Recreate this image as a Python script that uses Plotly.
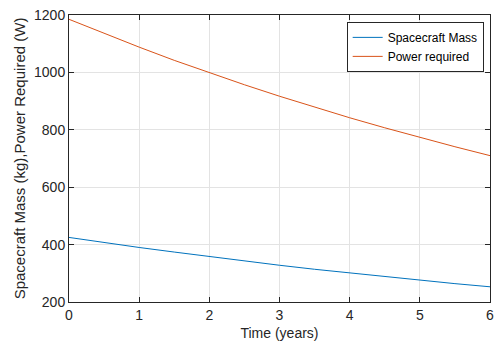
import plotly.graph_objects as go

# Mission time (years)
time_years = [0, 0.5, 1, 1.5, 2, 2.5, 3, 3.5, 4, 4.5, 5, 5.5, 6]
# Spacecraft mass (kg)
spacecraft_mass = [425, 407, 390, 374, 358, 343, 328, 314, 301, 288, 276, 264, 253]
# Power required (W)
power_required = [1185, 1136, 1088, 1042, 999, 957, 917, 879, 842, 807, 773, 741, 710]

x_ticks = [0, 1, 2, 3, 4, 5, 6]
y_ticks = [200, 400, 600, 800, 1000, 1200]

fig = go.Figure()
fig.add_trace(go.Scatter(x=time_years, y=spacecraft_mass, mode="lines",
                         name="Spacecraft Mass",
                         line=dict(color="#0072BD", width=1)))
fig.add_trace(go.Scatter(x=time_years, y=power_required, mode="lines",
                         name="Power required",
                         line=dict(color="#D95319", width=1)))

axis_common = dict(
    showline=True, linecolor="#262626", linewidth=1, mirror="ticks",
    ticks="inside", ticklen=5, tickcolor="#262626",
    showgrid=True, gridcolor="#e3e3e3", gridwidth=1,
    zeroline=False, ticklabeloverflow="allow",
    tickfont=dict(family="Liberation Sans, Arial", size=14, color="#262626"),
)

fig.update_layout(
    width=494, height=349,
    margin=dict(l=69, r=4, t=15, b=47, autoexpand=False),
    paper_bgcolor="white", plot_bgcolor="white",
    showlegend=True,
    legend=dict(x=0.985, y=0.976, xanchor="right", yanchor="top",
                bgcolor="white", bordercolor="#262626", borderwidth=1,
                font=dict(family="Liberation Sans, Arial", size=12, color="#000000"),
                tracegroupgap=0, itemwidth=30),
    xaxis=dict(range=[0, 6], tickvals=x_ticks,
               title=dict(text="Time (years)", standoff=6,
                          font=dict(family="Liberation Sans, Arial", size=14, color="#262626")),
               **axis_common),
    yaxis=dict(range=[200, 1200], tickvals=y_ticks,
               title=dict(text="Spacecraft Mass (kg),Power Required (W)", standoff=4,
                          font=dict(family="Liberation Sans, Arial", size=15, color="#262626")),
               **axis_common),
)

fig.write_html("out.html")
